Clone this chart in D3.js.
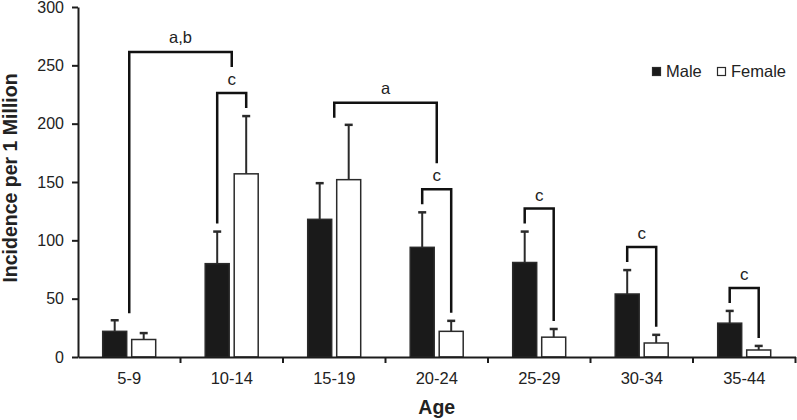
<!DOCTYPE html>
<html>
<head>
<meta charset="utf-8">
<script src="https://cdn.jsdelivr.net/npm/d3@7"></script>
<style>
  html, body { margin: 0; padding: 0; background: #fff; }
  svg { display: block; font-family: "Liberation Sans", Arial, sans-serif; }
</style>
</head>
<body>
<svg id="chart" width="797" height="420"></svg>
<script>
// data
const ages = ['5-9', '10-14', '15-19', '20-24', '25-29', '30-34', '35-44'];
const sexes = ['Male', 'Female'];
const maleValues = [22, 80, 118, 94, 81, 54, 29];
const maleErrors = [9.5, 27.5, 31, 30, 26.5, 20.5, 10.5];
const femaleValues = [15, 157, 152, 22, 17, 12, 6];
const femaleErrors = [5.5, 49.5, 47, 9, 7, 7, 3.5];
const yTicks = [0, 50, 100, 150, 200, 250, 300];
// significance marks
const sexMarks = ['10-14', '20-24', '25-29', '30-34', '35-44'];
const sexMarkLabel = 'c';
const ageMarkFrom = ['5-9', '15-19'];
const ageMarkTo = ['10-14', '20-24'];
const ageMarkLabels = ['a,b', 'a'];

const svg = d3.select('#chart');
const plotLeft = 78, plotRight = 795.5, plotTop = 7, plotBottom = 357;

const y = d3.scaleLinear().domain([0, 300]).range([plotBottom, plotTop]);
const x0 = d3.scaleBand().domain(ages).range([plotLeft, plotRight]).padding(0);
const x1 = d3.scaleBand().domain(sexes).range([24.7, 77.7]).paddingInner(0.1724);

const rows = ages.map((a, i) => ({
  age: a,
  Male: { v: maleValues[i], e: maleErrors[i] },
  Female: { v: femaleValues[i], e: femaleErrors[i] }
}));

const ink = '#1c1c1c';

// bars
const groups = svg.selectAll('g.grp')
  .data(rows)
  .enter()
  .append('g')
  .attr('class', 'grp')
  .attr('transform', d => 'translate(' + x0(d.age) + ',0)');

groups.selectAll('rect')
  .data(d => sexes.map(s => ({ sex: s, v: d[s].v, e: d[s].e })))
  .enter()
  .append('rect')
  .attr('x', d => x1(d.sex))
  .attr('y', d => y(d.v))
  .attr('width', x1.bandwidth())
  .attr('height', d => y(0) - y(d.v))
  .attr('fill', d => d.sex === 'Male' ? '#1a1a1a' : '#fff')
  .attr('stroke', '#2a2a2a')
  .attr('stroke-width', 1.5);

// error bars (upper only)
const errs = groups.selectAll('g.err')
  .data(d => sexes.map(s => ({ sex: s, v: d[s].v, e: d[s].e })))
  .enter()
  .append('g')
  .attr('class', 'err');
errs.append('line')
  .attr('x1', d => x1(d.sex) + x1.bandwidth() / 2)
  .attr('x2', d => x1(d.sex) + x1.bandwidth() / 2)
  .attr('y1', d => y(d.v))
  .attr('y2', d => y(d.v + d.e))
  .attr('stroke', '#2a2a2a')
  .attr('stroke-width', 2);
errs.append('line')
  .attr('x1', d => x1(d.sex) + x1.bandwidth() / 2 - 4)
  .attr('x2', d => x1(d.sex) + x1.bandwidth() / 2 + 4)
  .attr('y1', d => y(d.v + d.e))
  .attr('y2', d => y(d.v + d.e))
  .attr('stroke', '#2a2a2a')
  .attr('stroke-width', 2.5);

// y axis
const yAxis = svg.append('g')
  .attr('transform', 'translate(' + plotLeft + ',0)')
  .call(d3.axisLeft(y).tickValues(yTicks).tickSize(6).tickPadding(8).tickSizeOuter(0));
yAxis.select('.domain').attr('stroke', ink).attr('stroke-width', 2);
yAxis.selectAll('.tick line').attr('stroke', ink).attr('stroke-width', 2);
yAxis.selectAll('text').attr('font-size', 16).attr('fill', '#222').attr('font-family', null);

// x axis: labels centred, ticks at category boundaries
const xAxis = svg.append('g')
  .attr('transform', 'translate(0,' + plotBottom + ')')
  .call(d3.axisBottom(x0).tickSize(0).tickPadding(15).tickSizeOuter(0));
xAxis.select('.domain').attr('stroke', ink).attr('stroke-width', 2);
xAxis.selectAll('text').attr('font-size', 16.5).attr('fill', '#222').attr('font-family', null);
xAxis.selectAll('line.bound')
  .data(ages)
  .enter()
  .append('line')
  .attr('class', 'bound')
  .attr('x1', d => x0(d) + x0.bandwidth())
  .attr('x2', d => x0(d) + x0.bandwidth())
  .attr('y1', 0)
  .attr('y2', 6)
  .attr('stroke', ink)
  .attr('stroke-width', 2);

// axis titles
svg.append('text')
  .attr('x', (plotLeft + plotRight) / 2)
  .attr('y', 414)
  .attr('text-anchor', 'middle')
  .attr('font-size', 19.5)
  .attr('font-weight', 'bold')
  .attr('fill', '#222')
  .text('Age');

svg.append('text')
  .attr('transform', 'translate(16.5,' + 178 + ') rotate(-90)')
  .attr('text-anchor', 'middle')
  .attr('font-size', 19.5)
  .attr('font-weight', 'bold')
  .attr('fill', '#222')
  .text('Incidence per 1 Million');

// significance brackets between sexes within an age group
const cx = (age, sex) => x0(age) + x1(sex) + x1.bandwidth() / 2;
const errTop = (age, sex) => {
  const r = rows[ages.indexOf(age)][sex];
  return y(r.v + r.e);
};
const sexMarkTop = {};
sexMarks.forEach(age => {
  const lm = errTop(age, 'Male') - 8;
  const lf = errTop(age, 'Female') - 8;
  const t = Math.min(lm, lf) - 15;
  sexMarkTop[age] = t;
  svg.append('path')
    .attr('d', 'M' + cx(age, 'Male') + ',' + lm + 'V' + t + 'H' + cx(age, 'Female') + 'V' + lf)
    .attr('fill', 'none')
    .attr('stroke', '#111')
    .attr('stroke-width', 2.5);
  svg.append('text')
    .attr('x', (cx(age, 'Male') + cx(age, 'Female')) / 2)
    .attr('y', t - 8)
    .attr('text-anchor', 'middle')
    .attr('font-size', 17)
    .attr('fill', '#222')
    .text(sexMarkLabel);
});

// significance brackets between age groups
const groupTop = age => Math.min(errTop(age, 'Male'), errTop(age, 'Female'));
ageMarkFrom.forEach((from, i) => {
  const to = ageMarkTo[i];
  const xa = x0(from) + x0.bandwidth() / 2;
  const xb = x0(to) + x0.bandwidth() / 2;
  const la = (sexMarkTop[from] !== undefined ? sexMarkTop[from] - 26 : groupTop(from) - 7);
  const lb = (sexMarkTop[to] !== undefined ? sexMarkTop[to] - 26 : groupTop(to) - 7);
  const t = Math.min(la, lb) - 15;
  svg.append('path')
    .attr('d', 'M' + xa + ',' + la + 'V' + t + 'H' + xb + 'V' + lb)
    .attr('fill', 'none')
    .attr('stroke', '#111')
    .attr('stroke-width', 2.5);
  svg.append('text')
    .attr('x', (xa + xb) / 2)
    .attr('y', t - 9)
    .attr('text-anchor', 'middle')
    .attr('font-size', 16.5)
    .attr('fill', '#222')
    .text(ageMarkLabels[i]);
});

// legend
const legend = svg.append('g').attr('transform', 'translate(652,67)');
const legendX = [0, 65];
sexes.forEach((s, i) => {
  legend.append('rect')
    .attr('x', legendX[i] + 0.5)
    .attr('y', 0.5)
    .attr('width', 8)
    .attr('height', 8)
    .attr('fill', s === 'Male' ? '#1a1a1a' : '#fff')
    .attr('stroke', '#2a2a2a')
    .attr('stroke-width', 1.2);
  legend.append('text')
    .attr('x', legendX[i] + 14)
    .attr('y', 9.5)
    .attr('font-size', 16.5)
    .attr('fill', '#222')
    .text(s);
});
</script>
</body>
</html>
